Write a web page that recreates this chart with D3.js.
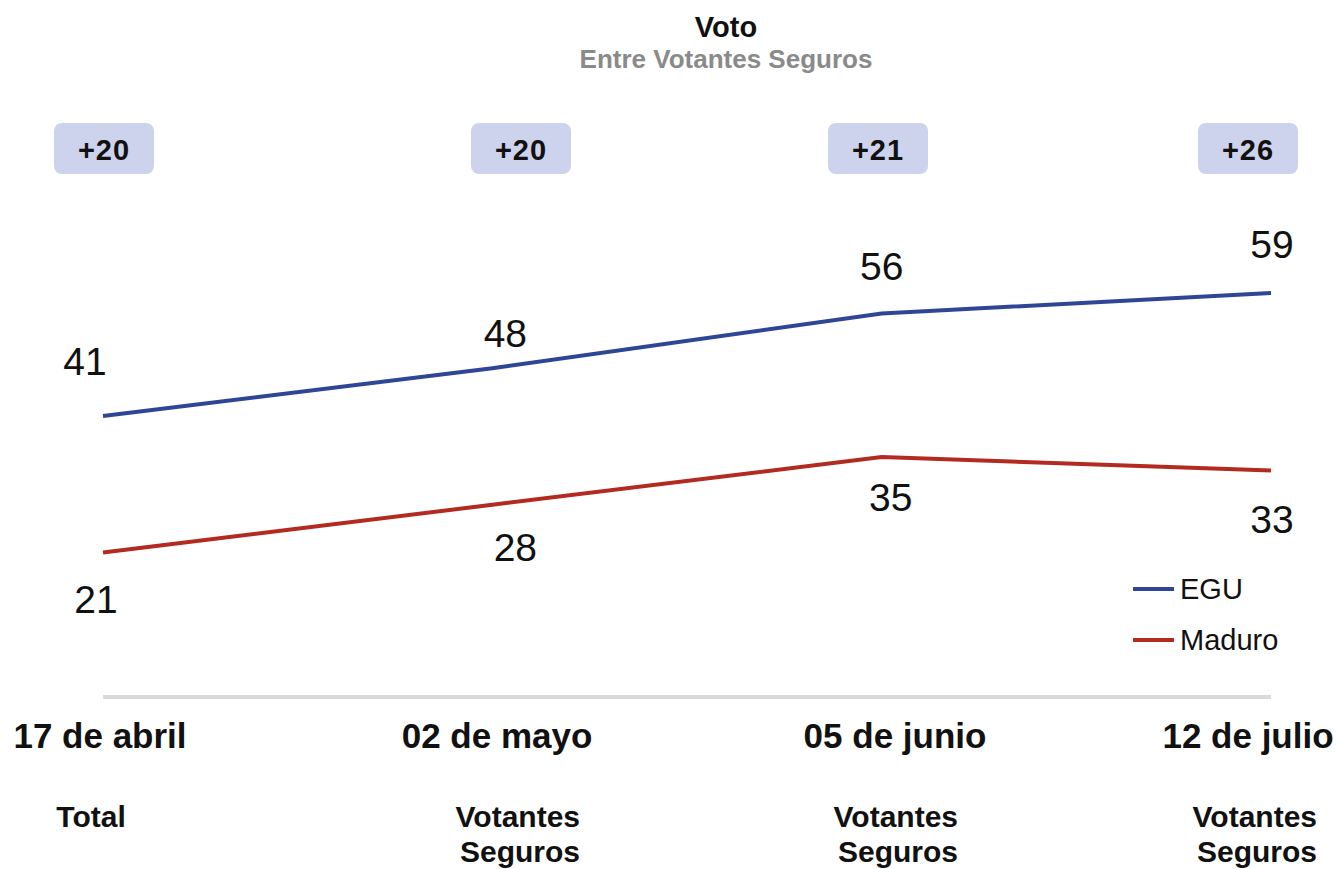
<!DOCTYPE html>
<html><head><meta charset="utf-8">
<script src="https://cdn.jsdelivr.net/npm/d3@7"></script>
<style>body{margin:0;background:#fff}svg{display:block;font-family:"Liberation Sans",Arial,sans-serif}</style>
</head><body><svg id="c" width="1336" height="869"></svg>
<script>
const dates = ["17 de abril","02 de mayo","05 de junio","12 de julio"];
const subLabels = [["Total"],["Votantes","Seguros"],["Votantes","Seguros"],["Votantes","Seguros"]];
const egu = [41,48,56,59];
const maduro = [21,28,35,33];
const diffs = ["+20","+20","+21","+26"];
const seriesNames = ["EGU","Maduro"];

// layout tweaks for label placement (dx, dy from point)
const eguLabelOff = [[-18,-41],[13,-21],[0,-34],[1,-35]];
const madLabelOff = [[-7,60],[23,56],[9,54],[1,62]];
const badgeX = [104,521,878,1248];
const dateX = [100,497,895,1248];
const subX = [{a:"middle",x:91},{a:"end",x:580},{a:"end",x:958},{a:"end",x:1317}];

const svg = d3.select("#c");
const x = d3.scalePoint().domain(dates).range([103,1271]);
const y = d3.scaleLinear().domain([0,100]).range([696,13]);
const colors = {EGU:"#2f4596", Maduro:"#b22a20"};

svg.append("text").attr("x",726).attr("y",37).attr("text-anchor","middle")
  .attr("font-weight","bold").attr("font-size",29).attr("fill","#111").text("Voto");
svg.append("text").attr("x",726).attr("y",68).attr("text-anchor","middle")
  .attr("font-weight","bold").attr("font-size",26).attr("fill","#8a8a8a").text("Entre Votantes Seguros");

// badges
const bg = svg.append("g").selectAll("g").data(diffs).join("g");
bg.append("rect").attr("x",(d,i)=>badgeX[i]-50).attr("y",123).attr("width",100).attr("height",51)
  .attr("rx",8).attr("fill","#cdd3ec");
bg.append("text").attr("x",(d,i)=>badgeX[i]).attr("y",160).attr("text-anchor","middle")
  .attr("font-weight","bold").attr("font-size",29).attr("letter-spacing",1).attr("fill","#111").text(d=>d);

// axis baseline
svg.append("line").attr("x1",x(dates[0])).attr("x2",x(dates[3])).attr("y1",y(0)+1).attr("y2",y(0)+1)
  .attr("stroke","#d9d9d9").attr("stroke-width",4);

const line = d3.line().x((d,i)=>x(dates[i])).y(d=>y(d));
svg.append("path").datum(egu).attr("d",line).attr("fill","none").attr("stroke",colors.EGU).attr("stroke-width",4);
svg.append("path").datum(maduro).attr("d",line).attr("fill","none").attr("stroke",colors.Maduro).attr("stroke-width",4);

svg.append("g").selectAll("text").data(egu).join("text")
  .attr("x",(d,i)=>x(dates[i])+eguLabelOff[i][0]).attr("y",(d,i)=>y(d)+eguLabelOff[i][1])
  .attr("text-anchor","middle").attr("font-size",39).attr("fill","#111").text(d=>d);
svg.append("g").selectAll("text").data(maduro).join("text")
  .attr("x",(d,i)=>x(dates[i])+madLabelOff[i][0]).attr("y",(d,i)=>y(d)+madLabelOff[i][1])
  .attr("text-anchor","middle").attr("font-size",39).attr("fill","#111").text(d=>d);

// date labels
svg.append("g").selectAll("text").data(dates).join("text")
  .attr("x",(d,i)=>dateX[i]).attr("y",748).attr("text-anchor","middle")
  .attr("font-weight","bold").attr("font-size",35).attr("fill","#111").text(d=>d);
subLabels.forEach((lines,i)=>{
  lines.forEach((t,j)=>{
    svg.append("text").attr("x",subX[i].x).attr("y",827+j*35).attr("text-anchor",subX[i].a)
      .attr("font-weight","bold").attr("font-size",30).attr("fill","#111").text(t);
  });
});

// legend
const lg = svg.append("g").selectAll("g").data(seriesNames).join("g")
  .attr("transform",(d,i)=>`translate(1133,${589+i*51})`);
lg.append("line").attr("x1",0).attr("x2",41).attr("stroke",d=>colors[d]).attr("stroke-width",4);
lg.append("text").attr("x",47).attr("y",10).attr("font-size",29).attr("fill","#111").text(d=>d);
</script></body></html>
